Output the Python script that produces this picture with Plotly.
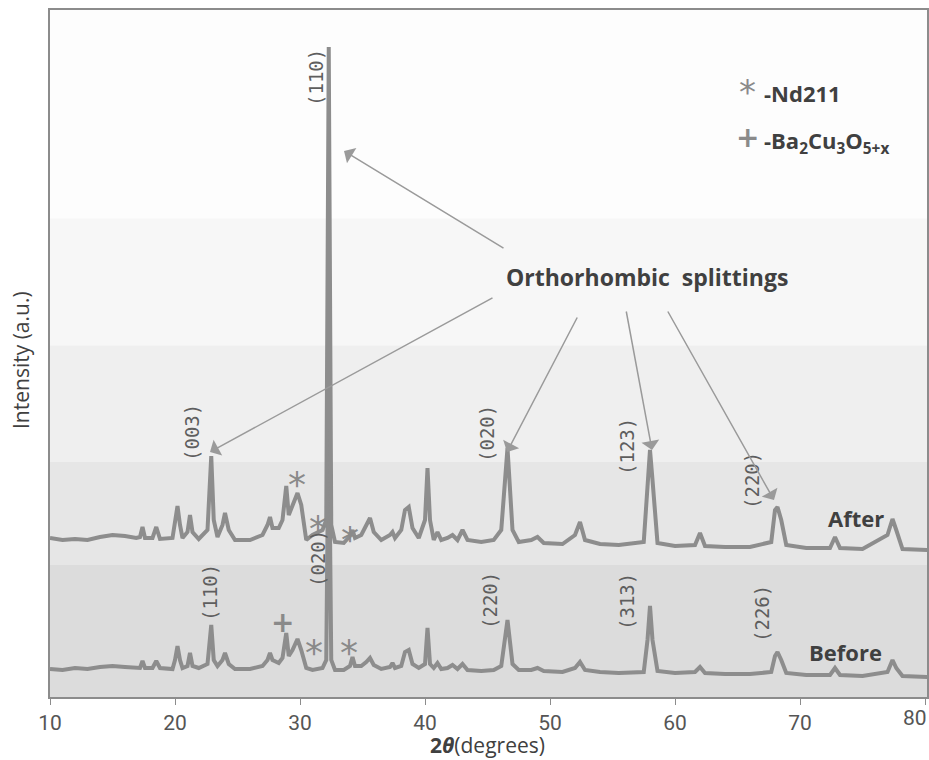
import plotly.graph_objects as go

# ---------------- data (2theta in degrees, intensity in a.u.) ----------------
before_x = [10.0, 11.0, 12.0, 13.0, 14.0, 15.0, 16.0, 16.9, 17.2, 17.4, 17.6, 18.2, 18.5, 18.8, 19.8,
            20.0, 20.2, 20.4, 20.6, 21.0, 21.2, 21.4, 21.9, 22.6, 22.9, 23.1, 23.4, 23.8, 24.0, 24.3,
            24.8, 26.0, 27.0, 27.4, 27.6, 27.8, 28.3, 28.6, 28.9, 29.1, 29.4, 29.8, 30.1, 30.5, 31.0,
            31.8, 32.1, 32.3, 32.5, 32.8, 33.5, 34.0, 34.2, 34.4, 34.9, 35.3, 35.6, 35.9, 36.5, 37.2,
            37.4, 37.6, 38.1, 38.4, 38.7, 39.0, 39.5, 40.0, 40.2, 40.4, 40.7, 41.0, 41.3, 41.8, 42.2,
            42.6, 43.0, 43.4, 44.5, 45.5, 46.1, 46.6, 47.0, 47.5, 48.5, 49.0, 49.5, 51.0, 52.0, 52.4,
            52.8, 54.0, 55.5, 57.5, 57.8, 58.0, 58.2, 58.6, 60.0, 61.6, 62.0, 62.4, 64.0, 66.0, 67.7,
            68.0, 68.2, 68.5, 68.9, 70.5, 72.4, 72.8, 73.2, 75.0, 77.0, 77.4, 77.7, 78.2, 80.2]
before_y = [28, 27, 29, 28, 30, 31, 30, 29, 29, 36, 29, 29, 36, 29, 28,
            37, 51, 37, 29, 31, 44, 31, 29, 33, 72, 37, 31, 37, 44, 33,
            28, 28, 31, 37, 44, 37, 34, 39, 64, 41, 47, 58, 47, 29, 27,
            29, 37, 297, 37, 27, 27, 31, 40, 31, 31, 35, 39, 32, 28, 30,
            34, 29, 31, 45, 47, 33, 29, 33, 69, 33, 29, 34, 28, 29, 32,
            28, 33, 27, 26, 27, 31, 77, 33, 27, 27, 29, 26, 25, 29, 35,
            27, 25, 24, 25, 57, 91, 57, 26, 24, 25, 30, 24, 23, 23, 25,
            41, 45, 37, 24, 22, 22, 29, 22, 21, 25, 37, 29, 21, 20]

after_offset = 130
after_x = before_x
after_y = [29, 27, 28, 27, 30, 32, 31, 29, 30, 40, 29, 29, 40, 28, 29,
           47, 61, 42, 29, 35, 52, 35, 28, 37, 111, 47, 30, 42, 54, 37,
           27, 27, 32, 42, 50, 39, 39, 47, 81, 52, 62, 74, 62, 27, 32,
           37, 47, 520, 42, 25, 24, 31, 37, 29, 32, 42, 49, 35, 27, 32,
           35, 29, 37, 57, 60, 39, 29, 47, 99, 47, 27, 35, 27, 29, 32,
           27, 37, 27, 25, 27, 37, 119, 37, 25, 27, 30, 24, 23, 32, 45,
           27, 23, 22, 25, 87, 117, 87, 24, 21, 22, 34, 21, 20, 20, 25,
           57, 60, 47, 22, 19, 19, 30, 19, 18, 32, 48, 37, 18, 17]

x_ticks = [10, 20, 30, 40, 50, 60, 70, 80]
x_tick_labels = ["10", "20", "30", "40", "50", "60", "70", ""]

# ---------------- geometry helpers for annotations ----------------
W, H = 929, 760
L, R, T, B = 50, 2, 10, 63
PW, PH = W - L - R, H - T - B
X0, X1 = 10, 10 + PW / 12.5
Y0, Y1 = 0, PH


def px(xp):
    return X0 + (xp - L) / 12.5


def py(yp):
    return (H - B) - yp


def ppx(xp):
    return (xp - L) / PW


def ppy(yp):
    return ((H - B) - yp) / PH


TRACE = "#8d8d8d"
fig = go.Figure()
fig.add_trace(go.Scatter(x=before_x, y=before_y, mode="lines",
                         line=dict(color=TRACE, width=4), hoverinfo="skip", showlegend=False))
fig.add_trace(go.Scatter(x=after_x, y=[v + after_offset for v in after_y], mode="lines",
                         line=dict(color=TRACE, width=4), hoverinfo="skip", showlegend=False))

# background gradient bands
bands = [(0.0, 0.192, "#dcdcdc"), (0.192, 0.342, "#e6e6e6"), (0.342, 0.512, "#efefef"),
         (0.512, 0.697, "#f7f7f7"), (0.697, 1.0, "#fdfdfd")]
shapes = []
for y0, y1, c in bands:
    shapes.append(dict(type="rect", xref="paper", yref="paper", x0=0, x1=1, y0=y0, y1=y1,
                       fillcolor=c, line=dict(width=0), layer="below"))

ann = []
LBL = dict(family="DejaVu Sans Mono, monospace", size=19, color="#5e5e5e")


def rot(text, xp, yp):
    ann.append(dict(x=px(xp), y=py(yp), xref="x", yref="y", text=text, showarrow=False,
                    textangle=-90, font=LBL, xanchor="center", yanchor="middle"))


rot("(110)", 316, 78)
rot("(003)", 192, 433)
rot("(020)", 487, 434)
rot("(123)", 627, 447)
rot("(220)", 752, 481)
rot("(110)", 210, 593)
rot("(020)", 318, 559)
rot("(220)", 490, 601)
rot("(313)", 627, 602)
rot("(226)", 762, 614)

SYM = "#8a8a8a"


def sym(text, xp, yp, size=36):
    ann.append(dict(x=px(xp), y=py(yp), xref="x", yref="y", text=text, showarrow=False,
                    font=dict(family="DejaVu Sans, sans-serif", size=size, color=SYM),
                    xanchor="center", yanchor="middle"))


sym("*", 297, 484)
sym("*", 318, 528)
sym("*", 350, 539)
sym("<b>+</b>", 282, 622, 28)
sym("*", 314, 652)
sym("*", 349, 652)
sym("*", 747, 92, 34)
sym("<b>+</b>", 747, 137, 28)

BOLD = dict(family="Open Sans, sans-serif", size=22, color="#404040")
ann.append(dict(x=px(856), y=py(518), xref="x", yref="y", text="<b>After</b>", showarrow=False,
                font=BOLD, xanchor="center", yanchor="middle"))
ann.append(dict(x=px(845), y=py(652), xref="x", yref="y", text="<b>Before</b>", showarrow=False,
                font=BOLD, xanchor="center", yanchor="middle"))
ann.append(dict(x=px(762), y=py(93), xref="x", yref="y", text="<b>-Nd211</b>", showarrow=False,
                font=BOLD, xanchor="left", yanchor="middle"))
ann.append(dict(x=px(762), y=py(142), xref="x", yref="y",
                text="<b>-Ba<sub>2</sub>Cu<sub>3</sub>O<sub>5+x</sub></b>", showarrow=False,
                font=BOLD, xanchor="left", yanchor="middle"))
ann.append(dict(x=px(647), y=py(277), xref="x", yref="y", text="<b>Orthorhombic  splittings</b>",
                showarrow=False, font=dict(family="Open Sans, sans-serif", size=23, color="#404040"),
                xanchor="center", yanchor="middle"))

ARW = "#9a9a9a"


def arrow(tx, ty, sx, sy):
    ann.append(dict(x=px(tx), y=py(ty), xref="x", yref="y", ax=px(sx), ay=py(sy),
                    axref="x", ayref="y", text="", showarrow=True, arrowhead=1, arrowsize=2,
                    arrowwidth=1.5, arrowcolor=ARW))


arrow(344, 151, 505, 249)
arrow(210, 452, 494, 297)
arrow(507, 452, 578, 316)
arrow(652, 450, 626, 310)
arrow(774, 500, 667, 310)

# axis titles and the last tick label (kept inside the picture as in the reference)
TICKFONT = dict(family="Liberation Sans Narrow, Roboto, sans-serif", size=21, color="#555555")
ann.append(dict(x=1.002, y=ppy(718), xref="paper", yref="paper", text="80", showarrow=False,
                font=TICKFONT, xanchor="right", yanchor="middle"))
ann.append(dict(x=ppx(487), y=ppy(745), xref="paper", yref="paper",
                text="<b>2<i>θ</i></b>(degrees)", showarrow=False,
                font=dict(family="Open Sans, sans-serif", size=21, color="#404040"),
                xanchor="center", yanchor="middle"))
ann.append(dict(x=ppx(21), y=ppy(360), xref="paper", yref="paper", text="Intensity (a.u.)",
                showarrow=False, textangle=-90,
                font=dict(family="Open Sans, sans-serif", size=21, color="#404040"),
                xanchor="center", yanchor="middle"))

fig.update_layout(
    width=W, height=H, margin=dict(l=L, r=R, t=T, b=B, autoexpand=False),
    paper_bgcolor="white", plot_bgcolor="#fdfdfd",
    shapes=shapes, annotations=ann, showlegend=False,
    xaxis=dict(range=[X0, X1], tickvals=x_ticks, ticktext=x_tick_labels, ticks="outside",
               ticklen=6, tickcolor="#8c8c8c", automargin=False,
               showgrid=False, zeroline=False, showline=True, linecolor="#8c8c8c", linewidth=1.5,
               mirror=True, tickfont=TICKFONT),
    yaxis=dict(range=[Y0, Y1], showticklabels=False, ticks="", showgrid=False, zeroline=False,
               automargin=False, showline=True, linecolor="#8c8c8c", linewidth=1.5, mirror=True),
)

fig.write_html("out.html", config={"displayModeBar": False},
               post_script="document.body.style.margin='0px';document.body.style.overflow='hidden';")
